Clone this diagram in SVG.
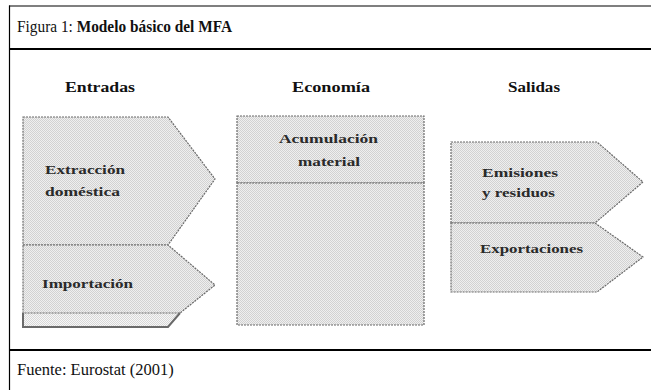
<svg xmlns="http://www.w3.org/2000/svg" width="651" height="390" viewBox="0 0 651 390">
  <defs>
    <pattern id="dots" width="2" height="2" patternUnits="userSpaceOnUse">
      <rect width="2" height="2" fill="#efefef"/>
      <rect width="1" height="1" fill="#d2d2d2"/>
      <rect x="1" y="1" width="1" height="1" fill="#d2d2d2"/>
    </pattern>
    <pattern id="dotsLight" width="2" height="2" patternUnits="userSpaceOnUse">
      <rect width="2" height="2" fill="#f7f7f7"/>
      <rect width="1" height="1" fill="#d8d8d8"/>
      <rect x="1" y="1" width="1" height="1" fill="#d8d8d8"/>
    </pattern>
  </defs>
  <style>
    .shape { fill: url(#dots); stroke: #6a6a6a; stroke-width: 1.2; stroke-dasharray: 2 1; }
    .band { fill: url(#dotsLight); stroke: none; }
    .cap { font-family: "Liberation Serif", "Times New Roman", serif; fill: #111; }
    .head { font-family: "Liberation Serif", "Times New Roman", serif; font-weight: bold; font-size: 15px; fill: #111; }
    .lbl { font-family: "Liberation Serif", "Times New Roman", serif; font-weight: bold; font-size: 13.5px; fill: #2a2a2a; }
  </style>

  <rect width="651" height="390" fill="#fff"/>

  <!-- frame -->
  <g id="frame">
    <line x1="9" y1="6" x2="651" y2="6" stroke="#555" stroke-width="1.5"/>
    <line x1="9.5" y1="5.5" x2="9.5" y2="390" stroke="#000" stroke-width="1.2"/>
    <line x1="9" y1="49" x2="651" y2="49" stroke="#000" stroke-width="2.2"/>
    <line x1="9" y1="350" x2="651" y2="350" stroke="#000" stroke-width="2.2"/>
    <text class="cap" x="17" y="32" font-size="17" textLength="215" lengthAdjust="spacingAndGlyphs">Figura 1: <tspan font-weight="bold">Modelo básico del MFA</tspan></text>
    <text class="cap" x="17" y="375" font-size="16.5">Fuente: Eurostat (2001)</text>
  </g>

  <!-- column headers -->
  <g id="headers">
    <text class="head" x="65" y="92" textLength="70" lengthAdjust="spacingAndGlyphs">Entradas</text>
    <text class="head" x="292" y="92" textLength="78" lengthAdjust="spacingAndGlyphs">Economía</text>
    <text class="head" x="508" y="92" textLength="52" lengthAdjust="spacingAndGlyphs">Salidas</text>
  </g>

  <!-- Entradas -->
  <g id="extraccion">
    <polygon class="shape" points="23,117 168,117 215,179 168,245 23,245"/>
    <text class="lbl" x="45" y="174" textLength="80" lengthAdjust="spacingAndGlyphs">Extracción</text>
    <text class="lbl" x="45" y="196" textLength="75" lengthAdjust="spacingAndGlyphs">doméstica</text>
  </g>
  <g id="importacion">
    <polygon class="band" points="23,312 180,312 168,327 23,327"/>
    <polygon class="shape" points="23,245 168,245 215,285 180,313 23,313"/>
    <path d="M23,313 V327 H168 L180,313" fill="none" stroke="#6a6a6a" stroke-width="2"/>
    <text class="lbl" x="42" y="288" textLength="91" lengthAdjust="spacingAndGlyphs">Importación</text>
  </g>

  <!-- Economía -->
  <g id="acumulacion">
    <rect class="shape" x="237" y="116" width="187" height="67"/>
    <text class="lbl" x="279" y="143" textLength="99" lengthAdjust="spacingAndGlyphs">Acumulación</text>
    <text class="lbl" x="298" y="166" textLength="62" lengthAdjust="spacingAndGlyphs">material</text>
  </g>
  <g id="economia-base">
    <rect class="shape" x="237" y="183" width="187" height="142"/>
  </g>

  <!-- Salidas -->
  <g id="emisiones">
    <polygon class="shape" points="451,142 597,142 643,182 595,223 451,223"/>
    <text class="lbl" x="482" y="177" textLength="76" lengthAdjust="spacingAndGlyphs">Emisiones</text>
    <text class="lbl" x="482" y="197" textLength="73" lengthAdjust="spacingAndGlyphs">y residuos</text>
  </g>
  <g id="exportaciones">
    <polygon class="shape" points="451,223 595,223 643,257 597,292 451,292"/>
    <text class="lbl" x="480" y="253" textLength="103" lengthAdjust="spacingAndGlyphs">Exportaciones</text>
  </g>

  <g id="connectors"></g>
</svg>
